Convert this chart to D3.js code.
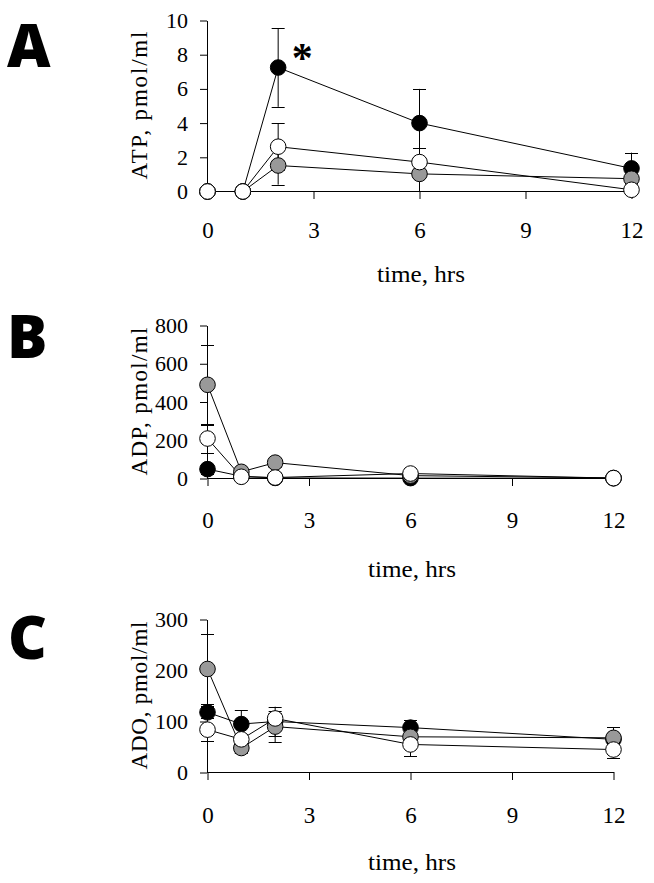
<!DOCTYPE html>
<html><head><meta charset="utf-8">
<script src="https://cdn.jsdelivr.net/npm/d3@7"></script>
<style>body{margin:0;background:#fff} svg{display:block}</style>
</head><body>
<script>
// ---------- data ----------
const hours = [0, 1, 2, 6, 12];
const xTickValues = [0, 3, 6, 9, 12];
const xTitle = "time, hrs";
const panelLetters = ["A", "B", "C"];
const yTitles = ["ATP, pmol/ml", "ADP, pmol/ml", "ADO, pmol/ml"];
const yTickValuesA = [0, 2, 4, 6, 8, 10];
const yTickValuesB = [0, 200, 400, 600, 800];
const yTickValuesC = [0, 100, 200, 300];
const seriesNames = ["black", "gray", "white"];

// Panel A: ATP
const atpBlack = [0, 0, 7.25, 4.0, 1.35];
const atpBlackErr = [0, 0, 2.3, 2.0, 0.92];
const atpGray = [0, 0, 1.52, 1.03, 0.75];
const atpGrayErr = [0, 0, 1.12, 1.0, 0.3];
const atpWhite = [0, 0, 2.62, 1.72, 0.1];
const atpWhiteErr = [0, 0, 1.38, 0.8, 0.2];

// Panel B: ADP
const adpBlack = [49, 12, 3, 2, 1];
const adpBlackErr = [25, 5, 3, 2, 1];
const adpGray = [490, 35, 83, 15, 3];
const adpGrayErr = [210, 15, 25, 10, 2];
const adpWhite = [209, 9, 5, 26, 2];
const adpWhiteErr = [78, 5, 3, 10, 1];

// Panel C: ADO
const adoBlack = [118, 95, 100, 88, 65];
const adoBlackErr = [12, 27, 29, 14, 24];
const adoGray = [203, 48, 90, 70, 68];
const adoGrayErr = [68, 10, 31, 10, 10];
const adoWhite = [84, 65, 106, 55, 45];
const adoWhiteErr = [22, 10, 10, 23, 16];

// ---------- layout ----------
const W = 654, H = 883;
const fills = { black: "#000000", gray: "#999999", white: "#ffffff" };
const panels = [
  { letter: panelLetters[0], yTitle: yTitles[0], yMax: 10, yTicks: yTickValuesA,
    x0: 207, x1: 631, top: 20, bottom: 191, xPad: 23, titleBase: 282, letterBase: 67, letterX: 7,
    series: [[atpBlack, atpBlackErr], [atpGray, atpGrayErr], [atpWhite, atpWhiteErr]], star: true },
  { letter: panelLetters[1], yTitle: yTitles[1], yMax: 800, yTicks: yTickValuesB,
    x0: 207, x1: 613, top: 325, bottom: 478, xPad: 25.5, titleBase: 577, letterBase: 358, letterX: 7,
    series: [[adpBlack, adpBlackErr], [adpGray, adpGrayErr], [adpWhite, adpWhiteErr]] },
  { letter: panelLetters[2], yTitle: yTitles[2], yMax: 300, yTicks: yTickValuesC,
    x0: 207, x1: 613, top: 619, bottom: 772, xPad: 26.5, titleBase: 870, letterBase: 659, letterX: 8,
    series: [[adoBlack, adoBlackErr], [adoGray, adoGrayErr], [adoWhite, adoWhiteErr]] }
];

const svg = d3.select("body").append("svg").attr("width", W).attr("height", H);
const serif = "Liberation Serif";
const R = 7.8, CAP = 6.5;

panels.forEach(p => {
  const x = d3.scaleLinear().domain([0, 12]).range([p.x0 + 0.5, p.x1 + 0.5]);
  const y = d3.scaleLinear().domain([0, p.yMax]).range([p.bottom + 0.5, p.top + 0.5]);
  const g = svg.append("g");

  // panel letter
  svg.append("text").attr("x", p.letterX).attr("y", p.letterBase)
    .style("font-family", "'Open Sans', 'DejaVu Sans', sans-serif").style("font-weight", 800)
    .style("font-size", "60px").text(p.letter);

  // axes
  const ya = g.append("g").attr("transform", `translate(${p.x0},0)`)
    .call(d3.axisLeft(y).tickValues(p.yTicks).tickSize(7).tickSizeOuter(0).tickPadding(12));
  ya.selectAll("text").attr("fill", "#000").style("font-family", serif).style("font-size", "22px");
  ya.selectAll("line,path").attr("stroke", "#000");

  const xa = g.append("g").attr("transform", `translate(0,${p.bottom})`)
    .call(d3.axisBottom(x).tickValues(xTickValues).tickSize(8).tickSizeOuter(0).tickPadding(p.xPad));
  xa.selectAll("text").attr("fill", "#000").style("font-family", serif).style("font-size", "23px");
  xa.selectAll("line,path").attr("stroke", "#000");

  // titles
  svg.append("text")
    .attr("transform", `translate(147,${(p.top + p.bottom) / 2}) rotate(-90)`)
    .attr("text-anchor", "middle").style("font-family", serif).style("font-size", "23px")
    .attr("textLength", 148).attr("lengthAdjust", "spacing")
    .text(p.yTitle);
  svg.append("text")
    .attr("x", (p.x0 + p.x1) / 2 + 2).attr("y", p.titleBase)
    .attr("text-anchor", "middle").style("font-family", serif).style("font-size", "24px")
    .attr("textLength", 88).attr("lengthAdjust", "spacingAndGlyphs")
    .text(xTitle);

  const line = d3.line().x((d, i) => x(hours[i])).y(d => y(d));

  // connecting lines
  p.series.forEach(([vals]) => {
    g.append("path").attr("d", line(vals)).attr("fill", "none")
      .attr("stroke", "#000").attr("stroke-width", 1);
  });
  // error bars
  p.series.forEach(([vals, errs]) => {
    vals.forEach((v, i) => {
      const e = errs[i];
      if (!e) return;
      const cx = x(hours[i]);
      const lo = Math.max(0, v - e), hi = v + e;
      g.append("line").attr("x1", cx).attr("x2", cx).attr("y1", y(lo)).attr("y2", y(hi))
        .attr("stroke", "#000").attr("stroke-width", 1);
      [lo, hi].forEach(b => {
        g.append("line").attr("x1", cx - CAP).attr("x2", cx + CAP)
          .attr("y1", Math.round(y(b)) + 0.5).attr("y2", Math.round(y(b)) + 0.5)
          .attr("stroke", "#000").attr("stroke-width", 1);
      });
    });
  });
  // markers
  p.series.forEach(([vals], si) => {
    g.selectAll(null).data(vals).enter().append("circle")
      .attr("cx", (d, i) => x(hours[i])).attr("cy", d => y(d)).attr("r", R)
      .attr("fill", fills[seriesNames[si]]).attr("stroke", "#000").attr("stroke-width", 1);
  });

  if (p.star) {
    svg.append("text").attr("x", x(2) + 24).attr("y", y(7.25) + 4)
      .attr("text-anchor", "middle").style("font-family", serif).style("font-weight", 700)
      .style("font-size", "42px").text("*");
  }
});
</script>
</body></html>
